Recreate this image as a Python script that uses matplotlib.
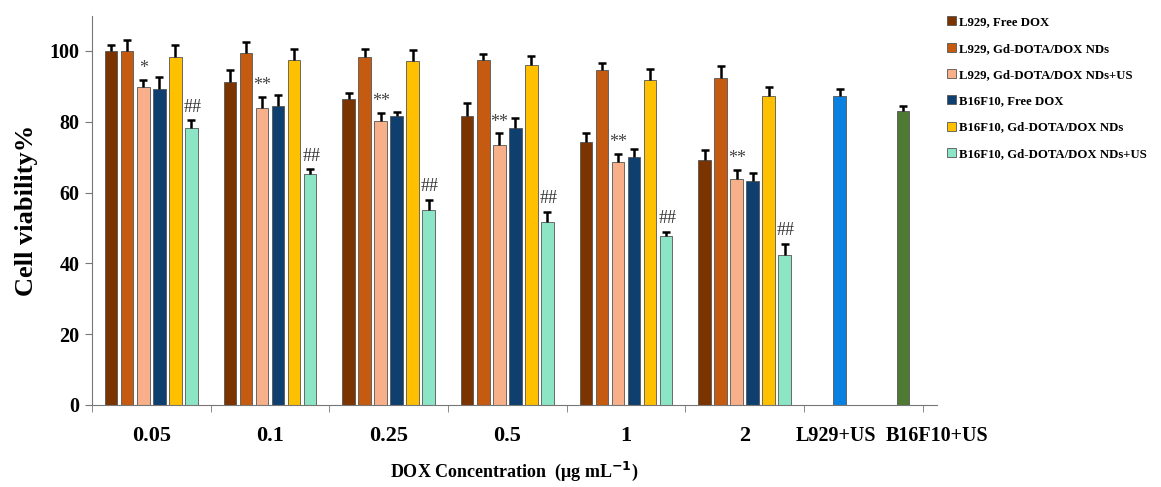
import numpy as np
import matplotlib.pyplot as plt
from matplotlib.patches import Patch

#---------/Data/------------------------------#

groups = ["0.05", "0.1", "0.25", "0.5", "1", "2"]
series_names = ["L929, Free DOX", "L929, Gd-DOTA/DOX NDs", "L929, Gd-DOTA/DOX NDs+US",
                "B16F10, Free DOX", "B16F10, Gd-DOTA/DOX NDs", "B16F10, Gd-DOTA/DOX NDs+US"]

l929_free = [100.0, 91.3, 86.3, 81.7, 74.4, 69.2]
l929_nds = [100.0, 99.3, 98.2, 97.5, 94.6, 92.5]
l929_nds_us = [89.9, 83.8, 80.3, 73.4, 68.5, 63.7]
b16_free = [89.4, 84.6, 81.5, 78.3, 70.1, 63.3]
b16_nds = [98.4, 97.5, 97.3, 95.9, 91.8, 87.2]
b16_nds_us = [78.2, 65.3, 55.1, 51.8, 47.6, 42.3]

l929_free_err = [1.8, 3.3, 1.9, 3.5, 2.3, 2.7]
l929_nds_err = [3.0, 3.3, 2.3, 1.7, 2.0, 3.2]
l929_nds_us_err = [2.0, 3.3, 2.1, 3.3, 2.4, 2.6]
b16_free_err = [3.3, 3.0, 1.4, 2.7, 2.1, 2.1]
b16_nds_err = [3.3, 3.1, 3.0, 2.7, 3.0, 2.7]
b16_nds_us_err = [2.2, 1.3, 2.8, 2.8, 1.4, 3.2]

controls = ["L929+US", "B16F10+US"]
control_vals = [87.2, 83.0]
control_err = [2.2, 1.5]

# significance marks on the L929 NDs+US bars
star_marks = ["*", "**", "**", "**", "**", "**"]

#---------/Style/------------------------------#

plt.rcParams['font.family'] = ['Liberation Serif', 'DejaVu Serif']
plt.rcParams['font.weight'] = 'bold'

colors = ["#7B3300", "#C55A11", "#F8B08A", "#0E3F6E", "#FFC000", "#8CE6C6"]
control_colors = ["#0A80E0", "#4E7A33"]

values = [l929_free, l929_nds, l929_nds_us, b16_free, b16_nds, b16_nds_us]
errors = [l929_free_err, l929_nds_err, l929_nds_us_err, b16_free_err, b16_nds_err, b16_nds_us_err]


#Upper-only error bar: stem plus top cap
def upper_err(ax, x, y, e):
    x = np.asarray(x)
    y = np.asarray(y)
    e = np.asarray(e)
    ax.vlines(x, y, y + e, colors="black", linewidth=1.8, zorder=3)
    ax.scatter(x, y + e, marker="_", s=30, linewidths=1.8, color="black", zorder=3)


fig = plt.figure(figsize=(11.61, 4.87), dpi=100)
ax = fig.add_axes([0.0792, 0.1684, 0.7278, 0.7996])

pitch = 0.135
width = 0.105
centers = np.arange(len(groups)) + 0.5

for i in range(len(values)):
    x = centers + (i - 2.5) * pitch
    ax.bar(x, values[i], width, color=colors[i], edgecolor="#555555", linewidth=0.6, zorder=2)
    upper_err(ax, x, values[i], errors[i])

# significance stars and ## marks
for g in range(len(groups)):
    x = centers[g] + (2 - 2.5) * pitch
    ax.text(x, values[2][g] + errors[2][g] + 0.8, star_marks[g], ha="center", va="bottom",
            fontsize=13, fontweight="normal", color="#444444")
    x2 = centers[g] + (5 - 2.5) * pitch
    ax.text(x2 + 0.01, values[5][g] + errors[5][g] + 1.3, "##", ha="center", va="bottom",
            fontsize=13, fontweight="normal", color="#333333")

# control bars
control_x = [6.30, 6.835]
ax.bar(control_x, control_vals, width, color=control_colors, edgecolor="#555555", linewidth=0.6, zorder=2)
upper_err(ax, control_x, control_vals, control_err)

#---------/Axes/------------------------------#

ax.set_xlim(0, 7)
ax.set_ylim(0, 110)
ax.spines["top"].set_visible(False)
ax.spines["right"].set_visible(False)
ax.spines["left"].set_color("#777777")
ax.spines["bottom"].set_color("#777777")

ax.set_yticks([0, 20, 40, 60, 80, 100])
ax.tick_params(axis="y", direction="out", length=5, color="#777777", labelsize=14.5, pad=4)

label_pos = list(centers) + [6.27, 7.12]
ax.set_xticks(label_pos)
ax.set_xticklabels(groups + controls)
ax.set_xticks(np.arange(0, 8), minor=True)
ax.tick_params(axis="x", which="major", length=0, labelsize=16, pad=15)
ax.tick_params(axis="x", which="minor", length=5, color="#777777")
xl = ax.get_xticklabels()
xl[-2].set_fontsize(14.5)
xl[-1].set_fontsize(14.5)

ax.set_ylabel("Cell viability%", fontsize=19, fontweight="bold", labelpad=8)
fig.text(0.443, 0.02, "DOX Concentration  (\u03bcg mL$^{\\mathbf{-1}}$)", ha="center",
         fontsize=13, fontweight="bold")

#---------/Legend/------------------------------#

handles = [Patch(facecolor=c, edgecolor="#555555", linewidth=0.6) for c in colors]
fig.legend(handles, series_names, loc="upper left", bbox_to_anchor=(0.806, 0.99),
           frameon=False, fontsize=9.2, handlelength=0.7, handleheight=0.7,
           handletextpad=0.2, labelspacing=1.12)

fig.savefig("out.png", dpi=100)
